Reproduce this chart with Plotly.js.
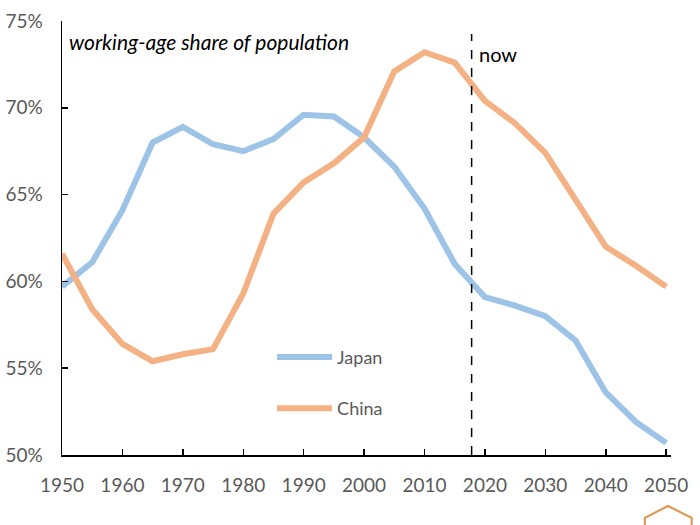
<!DOCTYPE html>
<html><head><meta charset="utf-8">
<script src="https://cdn.plot.ly/plotly-3.0.1.min.js"></script>
<style>html,body{margin:0;padding:0;background:#fff}#chart{width:700px;height:525px}</style>
</head><body><div id="chart"></div>
<script>
const years = [1950,1955,1960,1965,1970,1975,1980,1985,1990,1995,2000,2005,2010,2015,2020,2025,2030,2035,2040,2045,2050];
const japan = [59.7,61.1,64.1,68.0,68.9,67.9,67.5,68.2,69.6,69.5,68.3,66.6,64.2,61.0,59.1,58.6,58.0,56.6,53.6,51.9,50.7];
const china = [61.6,58.4,56.4,55.4,55.8,56.1,59.3,63.9,65.7,66.8,68.3,72.1,73.2,72.6,70.4,69.1,67.4,64.7,62.0,60.9,59.7];
const nowYear = 2017.8;
const xTicks = [1950,1960,1970,1980,1990,2000,2010,2020,2030,2040,2050];
const yTicks = [50,55,60,65,70,75];
const yTickText = ['50%','55%','60%','65%','70%','75%'];

const font = "Lato, 'Open Sans', sans-serif";
const traces = [
  {x: years, y: japan, name: 'Japan', mode: 'lines', line: {color: '#9DC3E6', width: 6}, legend: 'legend'},
  {x: years, y: china, name: 'China', mode: 'lines', line: {color: '#F4B183', width: 6}, legend: 'legend2'}
];
const legFont = {family: font, size: 18, color: '#595959'};
const layout = {
  width: 700, height: 525,
  margin: {l: 62, r: 29, t: 21, b: 70},
  paper_bgcolor: '#fff', plot_bgcolor: '#fff',
  font: {family: font, color: '#595959', size: 18},
  showlegend: true,
  legend: {x: 0.345, y: 0.225, xanchor: 'left', yanchor: 'middle', font: legFont, itemwidth: 55, bgcolor: 'rgba(0,0,0,0)'},
  legend2: {x: 0.345, y: 0.107, xanchor: 'left', yanchor: 'middle', font: legFont, itemwidth: 55, bgcolor: 'rgba(0,0,0,0)'},
  xaxis: {range: [1950, 2050.8], tickvals: xTicks, ticks: 'inside', ticklen: 6, tickcolor: '#000', tickwidth: 1.5,
          showline: true, linecolor: '#000', linewidth: 1.5, showgrid: false, zeroline: false,
          ticklabelstandoff: 13, tickfont: {family: font, size: 19, color: '#595959'}, fixedrange: true},
  yaxis: {range: [50, 75], tickvals: yTicks, ticktext: yTickText, ticks: 'inside', ticklen: 6, tickcolor: '#000', tickwidth: 1.5,
          showline: true, linecolor: '#000', linewidth: 1.5, showgrid: false, zeroline: false,
          ticklabelstandoff: 14, tickfont: {family: font, size: 19, color: '#595959'}, fixedrange: true},
  shapes: [
    {type: 'line', xref: 'x', yref: 'paper', x0: nowYear, x1: nowYear, y0: 0, y1: 0.97,
     line: {color: '#000', width: 1.5, dash: 'dash'}},
    {type: 'path', xref: 'paper', yref: 'paper',
     path: 'M 0.957 -0.2 L 0.957 -0.145 L 0.995 -0.1175 L 1.034 -0.145 L 1.034 -0.2',
     line: {color: '#E0914A', width: 2}, fillcolor: 'rgba(0,0,0,0)'}
  ],
  annotations: [
    {text: '<i>working-age share of population</i>', xref: 'paper', yref: 'paper', x: 0.008, y: 0.952,
     xanchor: 'left', yanchor: 'middle', showarrow: false, font: {family: font, size: 21, color: '#000'}},
    {text: 'now', xref: 'x', yref: 'paper', x: nowYear, y: 0.925, xanchor: 'left', yanchor: 'middle',
     xshift: 5, showarrow: false, font: {family: font, size: 20, color: '#000'}}
  ]
};
Plotly.newPlot('chart', traces, layout, {displayModeBar: false, staticPlot: true});
</script></body></html>
